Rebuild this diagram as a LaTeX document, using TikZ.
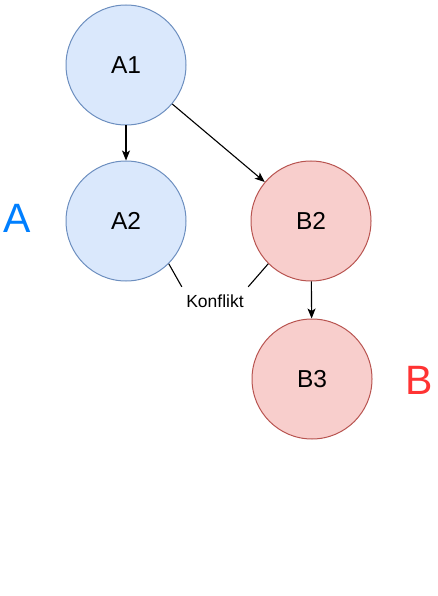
\documentclass[tikz,border=0pt]{standalone}
\usepackage{fontspec}
\setmainfont{Liberation Sans}
\usetikzlibrary{arrows.meta,positioning}
\definecolor{ajBlueFill}{HTML}{DAE8FC}
\definecolor{ajBlueLine}{HTML}{6C8EBF}
\definecolor{ajRedFill}{HTML}{F8CECC}
\definecolor{ajRedLine}{HTML}{B85450}
\definecolor{ajBlueTxt}{HTML}{007FFF}
\definecolor{ajRedTxt}{HTML}{FF3333}
\tikzset{
  commit/.style    ={circle,line width=1pt,minimum size=120pt,inner sep=0pt,
                     font=\fontsize{24.5}{28}\selectfont},
  commitA/.style   ={commit,draw=ajBlueLine,fill=ajBlueFill},
  commitB/.style   ={commit,draw=ajRedLine,fill=ajRedFill},
  flow/.style      ={-{Stealth[length=10pt,width=8pt,inset=2.5pt]},black,line width=1.1pt},
  clash/.style     ={black,line width=1.1pt},
  clbl/.style      ={font=\fontsize{17.5}{20}\selectfont,minimum width=66pt,
                     minimum height=28pt,inner sep=0pt},
  setlbl/.style    ={font=\fontsize{41}{46}\selectfont,inner sep=0pt},
}
\begin{document}
\begin{tikzpicture}[x=1pt,y=-1pt]
\useasboundingbox (0,0) rectangle (438,596);
\node[commitA] (a1) at (126,65) {A1};
\node[commitA,below=35pt of a1] (a2) {A2};
\node[commitB,right=64pt of a2] (b2) {B2};
\node[commitB,below=37pt of b2,xshift=1pt] (b3) {B3};

\node[clbl] (konf) at (215,301) {Konflikt};
\node[setlbl,text=ajBlueTxt] (labA) at (17,218) {A};
\node[setlbl,text=ajRedTxt] (labB) at (419,380) {B};

\draw[flow] (a1) -- (a2);
\draw[flow] (a1) -- (b2);
\draw[flow] (b2) -- (b3);
\draw[clash] (a2.-45) -- (konf.north west);
\draw[clash] (b2.-135) -- (konf.north east);
\end{tikzpicture}
\end{document}
